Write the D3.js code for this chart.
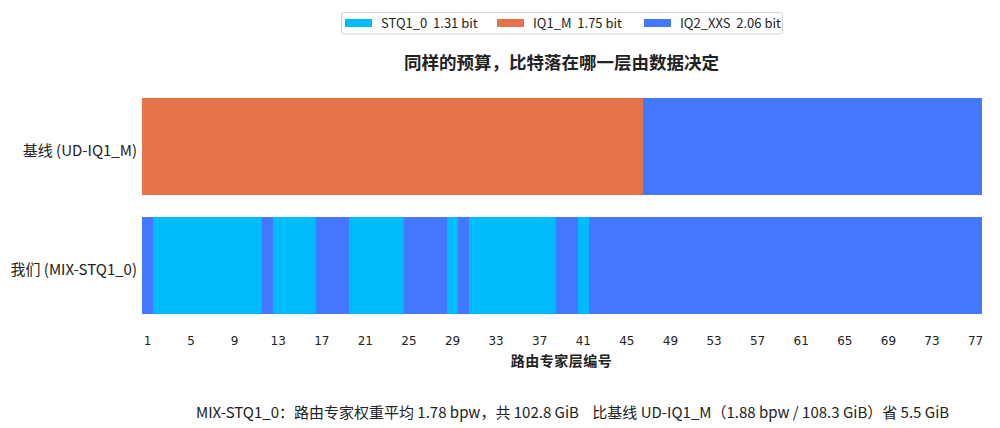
<!DOCTYPE html>
<html>
<head>
<meta charset="utf-8">
<script src="https://cdn.jsdelivr.net/npm/d3@7"></script>
<style>
  html, body { margin: 0; padding: 0; background: #fff; }
  svg text { font-family: "Noto Sans CJK SC", "Noto Sans", sans-serif; fill: #222; }
</style>
</head>
<body>
<div id="chart"></div>
<script>
(function () {
  'use strict';

  // ── Data ──
  var ROWS = ['基线 (UD-IQ1_M)', '我们 (MIX-STQ1_0)'];
  var QUANT_KEYS = ['STQ1_0', 'IQ1_M', 'IQ2_XXS'];
  var QUANT_BITS = ['1.31 bit', '1.75 bit', '2.06 bit'];
  var LAYER_TICKS = [1, 5, 9, 13, 17, 21, 25, 29, 33, 37, 41, 45, 49, 53, 57, 61, 65, 69, 73, 77];

  // per-layer quant type, layers 1..77 (S = STQ1_0, M = IQ1_M, X = IQ2_XXS)
  var BASELINE_LAYERS = [
    'M','M','M','M','M','M','M','M','M','M',
    'M','M','M','M','M','M','M','M','M','M',
    'M','M','M','M','M','M','M','M','M','M',
    'M','M','M','M','M','M','M','M','M','M',
    'M','M','M','M','M','M','X','X','X','X',
    'X','X','X','X','X','X','X','X','X','X',
    'X','X','X','X','X','X','X','X','X','X',
    'X','X','X','X','X','X','X'
  ];
  var MIX_LAYERS = [
    'X','S','S','S','S','S','S','S','S','S',
    'S','X','S','S','S','S','X','X','X','S',
    'S','S','S','S','X','X','X','X','S','X',
    'S','S','S','S','S','S','S','S','X','X',
    'S','X','X','X','X','X','X','X','X','X',
    'X','X','X','X','X','X','X','X','X','X',
    'X','X','X','X','X','X','X','X','X','X',
    'X','X','X','X','X','X','X'
  ];

  var TITLE = '同样的预算，比特落在哪一层由数据决定';
  var X_LABEL = '路由专家层编号';
  var FOOTER = 'MIX-STQ1_0：路由专家权重平均 1.78 bpw，共 102.8 GiB    比基线 UD-IQ1_M（1.88 bpw / 108.3 GiB）省 5.5 GiB';

  // ── Styles ──
  var WIDTH = 1000, HEIGHT = 428;
  var COLORS = { S: '#00bbf9', M: '#e5744b', X: '#4277fe' };
  var CODE_OF = { STQ1_0: 'S', IQ1_M: 'M', IQ2_XXS: 'X' };
  var PLOT = { left: 142, right: 981, top: 98, bottom: 314 };

  var svg = d3.select('#chart').append('svg')
    .attr('width', WIDTH)
    .attr('height', HEIGHT);

  var layerNums = MIX_LAYERS.map(function (d, i) { return i + 1; });

  var x = d3.scaleBand()
    .domain(layerNums)
    .range([PLOT.left, PLOT.right])
    .padding(0);

  var y = d3.scaleBand()
    .domain(ROWS)
    .range([PLOT.top, PLOT.bottom])
    .paddingInner(0.185)
    .paddingOuter(0);

  var rowData = [BASELINE_LAYERS, MIX_LAYERS];

  // ── Cells ──
  rowData.forEach(function (codes, r) {
    svg.append('g').selectAll('rect')
      .data(codes)
      .join('rect')
      .attr('x', function (d, i) { return x(i + 1); })
      .attr('y', y(ROWS[r]))
      .attr('width', x.bandwidth() + 0.6)
      .attr('height', y.bandwidth())
      .attr('fill', function (d) { return COLORS[d]; })
      .attr('shape-rendering', 'crispEdges');
  });

  // ── Row labels ──
  svg.append('g').selectAll('text')
    .data(ROWS)
    .join('text')
    .attr('x', PLOT.left - 5)
    .attr('y', function (d) { return y(d) + y.bandwidth() / 2 + 4; })
    .attr('dy', '0.35em')
    .attr('text-anchor', 'end')
    .attr('font-size', '15px')
    .text(function (d) { return d; });

  // ── X axis ──
  var xAxis = d3.axisBottom(x)
    .tickValues(LAYER_TICKS)
    .tickSize(0)
    .tickPadding(22);

  var axisG = svg.append('g')
    .attr('transform', 'translate(0,' + PLOT.bottom + ')')
    .call(xAxis);
  axisG.select('.domain').remove();
  axisG.selectAll('text')
    .style('font-family', '"DejaVu Sans", sans-serif')
    .attr('font-size', '12px')
    .attr('fill', '#222');

  svg.append('text')
    .attr('x', (PLOT.left + PLOT.right) / 2)
    .attr('y', 366)
    .attr('text-anchor', 'middle')
    .attr('font-size', '14px')
    .attr('font-weight', 'bold')
    .attr('letter-spacing', '0.5px')
    .text(X_LABEL);

  // ── Title ──
  svg.append('text')
    .attr('x', (PLOT.left + PLOT.right) / 2)
    .attr('y', 69)
    .attr('text-anchor', 'middle')
    .attr('font-size', '17.5px')
    .attr('font-weight', 'bold')
    .text(TITLE);

  // ── Legend ──
  var legend = svg.append('g');
  legend.append('rect')
    .attr('x', 341.5).attr('y', 12.5)
    .attr('width', 441).attr('height', 21.5)
    .attr('rx', 2)
    .attr('fill', '#fff')
    .attr('stroke', '#d4d4d4');

  var legendX = [345, 497, 644];
  var items = legend.selectAll('g.item')
    .data(QUANT_KEYS)
    .join('g')
    .attr('class', 'item')
    .attr('transform', function (d, i) { return 'translate(' + legendX[i] + ',0)'; });
  items.append('rect')
    .attr('y', 19).attr('width', 27).attr('height', 8)
    .attr('fill', function (d) { return COLORS[CODE_OF[d]]; });
  items.append('text')
    .attr('x', 36).attr('y', 23)
    .attr('dy', '0.35em')
    .attr('font-size', '13px')
    .attr('xml:space', 'preserve')
    .text(function (d, i) { return d + '  ' + QUANT_BITS[i]; });

  // ── Footer ──
  svg.append('text')
    .attr('x', 196)
    .attr('y', 413)
    .attr('dy', '0.35em')
    .attr('font-size', '15px')
    .attr('fill', '#333')
    .attr('xml:space', 'preserve')
    .style('white-space', 'pre')
    .text(FOOTER);
})();
</script>
</body>
</html>
